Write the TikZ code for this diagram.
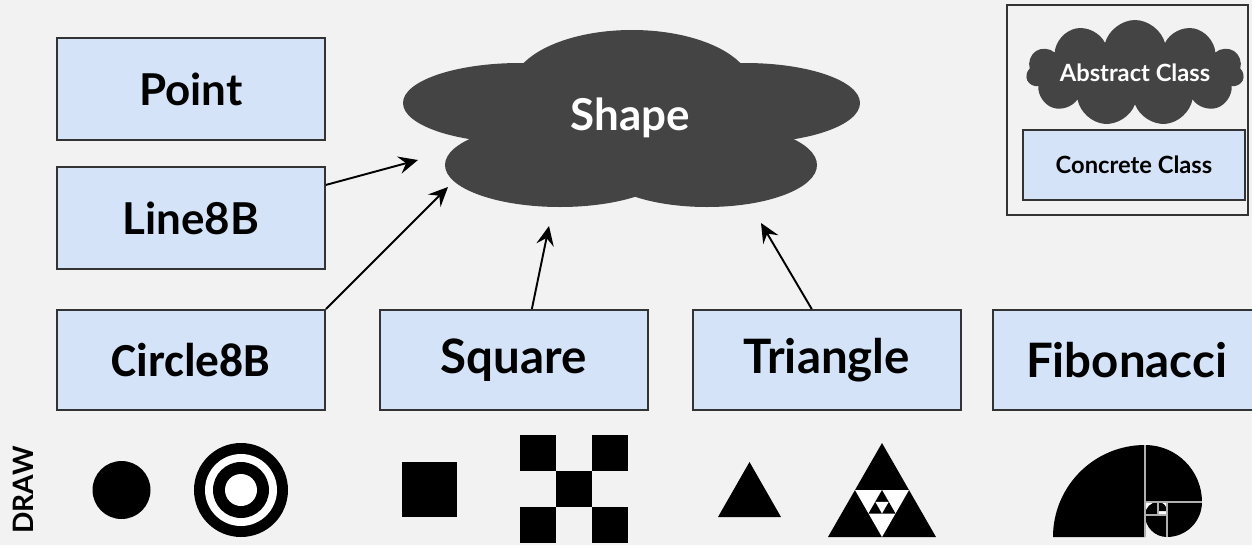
\documentclass[tikz,border=0pt]{standalone}
\usepackage{fontspec}
\setmainfont{Lato}
\newfontfamily\calibri{Carlito}
\usetikzlibrary{arrows.meta, positioning, shapes.symbols}
\definecolor{paper}{HTML}{F2F2F2}
\definecolor{boxblue}{HTML}{D4E3F8}
\definecolor{boxline}{HTML}{333333}
\definecolor{cloudgray}{HTML}{444444}
\definecolor{fibline}{HTML}{B0B0B0}

\begin{document}
\begin{tikzpicture}[
            x=0.02cm, y=-0.02cm,
            cls/.style={draw=boxline, fill=boxblue, line width=1.1pt, minimum width=5.36cm, minimum height=2cm, align=center, font=\bfseries\fontsize{27}{30}\selectfont},
            smallcls/.style={cls, minimum height=2.04cm, font=\bfseries\fontsize{25}{28}\selectfont},
            inherit/.style={black, line width=1.1pt, -{Stealth[length=11pt, width=10pt, inset=4pt]}},
            lobe/.style={fill=cloudgray}
        ]
            \useasboundingbox[fill=paper] (0,0) rectangle (1252,545);

            % abstract class, drawn as a cloud of lobes
            \fill[lobe] (632,88) ellipse [x radius=120, y radius=58];
            \fill[lobe] (520,103) ellipse [x radius=117, y radius=40];
            \fill[lobe] (745,103) ellipse [x radius=115, y radius=40];
            \fill[lobe] (560,165) ellipse [x radius=115, y radius=42];
            \fill[lobe] (707,165) ellipse [x radius=110, y radius=42];
            \node[text=white, font=\bfseries\fontsize{25}{28}\selectfont] (shape) at (630,118) {Shape};

            % concrete classes
            \node[smallcls] (point) at (191,89) {Point};
            \node[smallcls, below=0.5cm of point] (line) {Line8B};
            \node[cls, minimum height=2cm, font=\calibri\bfseries\fontsize{27}{30}\selectfont] (circle) at (191,360) {Circle8B};
            \node[cls, right=1.06cm of circle] (square) {Square};
            \node[cls, right=0.86cm of square] (triangle) {Triangle};
            \node[cls, right=0.6cm of triangle] (fibonacci) {Fibonacci};

            % inheritance arrows
            \coordinate (tipline) at (418,160);
            \coordinate (tipcircle) at (448,187);
            \coordinate (tipsquare) at (549,226);
            \coordinate (tiptriangle) at (761,223);
            \draw[inherit] ([yshift=0.66cm]line.east) -- (tipline);
            \draw[inherit] (circle.north east) -- (tipcircle);
            \draw[inherit] ([xshift=0.36cm]square.north) -- (tipsquare);
            \draw[inherit] ([xshift=-0.3cm]triangle.north) -- (tiptriangle);

            % legend
            \node[draw=boxline, line width=1.1pt, minimum width=4.82cm, minimum height=4.2cm] (legend) at (1127.5,110) {};
            \node[cloud, cloud puffs=11, aspect=3.4, fill=cloudgray, inner sep=0pt, minimum width=4.35cm, minimum height=1.35cm, text=white, font=\bfseries\fontsize{13.5}{16}\selectfont] (abstract) at (1135,73) {Abstract Class};
            \node[draw=boxline, fill=boxblue, line width=0.8pt, minimum width=4.44cm, minimum height=1.4cm, font=\bfseries\fontsize{13.5}{16}\selectfont] (concrete) at (1134,165) {Concrete Class};

            % what each class draws
            \node[rotate=90, font=\bfseries\fontsize{16}{18}\selectfont] (draw) at (23,490) {DRAW};
            \fill (121.5,490) circle [radius=29];
            \fill (241,490) circle [radius=47];
            \fill[white] (241,490) circle [radius=36];
            \fill (241,490) circle [radius=28];
            \fill[white] (241,490) circle [radius=16];

            \fill (402,462) rectangle (457,517);
            \foreach \i/\j in {0/0, 2/0, 1/1, 0/2, 2/2}
                \fill (520+36*\i, 435+36*\j) rectangle ++(36,36);

            \fill (718,517) -- (781,517) -- (749.5,462) -- cycle;
            \fill (828,537) -- (936,537) -- (882,443) -- cycle;
            \fill[white] (855,490) -- (909,490) -- (882,537) -- cycle;
            \fill (882,490) -- (868.5,513.5) -- (895.5,513.5) -- cycle;
            \fill[white] (875.25,501.75) -- (888.75,501.75) -- (882,513.5) -- cycle;

            % golden spiral
            \fill[white] (1145,502) rectangle (1167,515);
            \fill (1145,537) -- (1053,537) arc [start angle=180, end angle=270, radius=92] -- cycle;
            \fill (1145,502) -- (1145,445) arc [start angle=270, end angle=360, radius=57] -- cycle;
            \fill (1167,502) -- (1202,502) arc [start angle=0, end angle=90, radius=35] -- cycle;
            \fill (1167,515) -- (1167,537) arc [start angle=90, end angle=180, radius=22] -- cycle;
            \fill (1158,515) -- (1145,515) arc [start angle=180, end angle=270, radius=13] -- cycle;
            \fill (1158,511) -- (1158,502) arc [start angle=270, end angle=360, radius=9] -- cycle;
            \draw[fibline, line width=0.6pt] (1145,445) -- (1145,537)
                (1145,502) -- (1202,502) (1167,502) -- (1167,537)
                (1145,515) -- (1167,515) (1158,502) -- (1158,515);
        \end{tikzpicture}
\end{document}
